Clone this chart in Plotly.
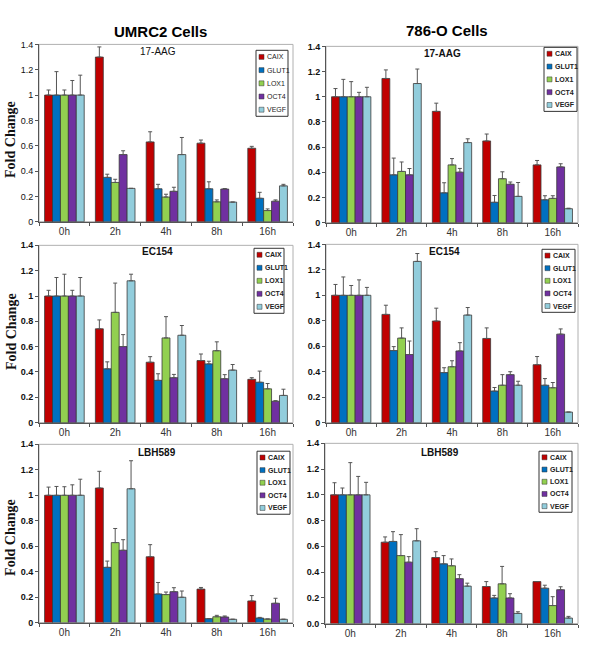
import plotly.graph_objects as go

W, H = 600, 667

time_labels = ["0h", "2h", "4h", "8h", "16h"]
genes = ["CAIX", "GLUT1", "LOX1", "OCT4", "VEGF"]
gene_colors = ["#C00000", "#0070C0", "#92D050", "#7030A0", "#92CDDC"]
column_titles = ["UMRC2 Cells", "786-O Cells"]
treatments = ["17-AAG", "EC154", "LBH589"]
y_tick_values = [0, 0.2, 0.4, 0.6, 0.8, 1.0, 1.2, 1.4]

# values[gene][time]
umrc2_17aag_values = [
    [1.0, 1.30, 0.63, 0.62, 0.58],
    [1.0, 0.35, 0.26, 0.26, 0.185],
    [1.0, 0.31, 0.195, 0.157, 0.088],
    [1.0, 0.53, 0.24, 0.258, 0.162],
    [1.0, 0.263, 0.53, 0.155, 0.283],
]
umrc2_17aag_errors = [
    [0.04, 0.08, 0.08, 0.025, 0.015],
    [0.185, 0.025, 0.035, 0.055, 0.047],
    [0.04, 0.025, 0.022, 0.015, 0.013],
    [0.115, 0.03, 0.032, 0.004, 0.01],
    [0.157, 0.0, 0.135, 0.0, 0.012],
]
o786_17aag_values = [
    [1.0, 1.145, 0.884, 0.649, 0.459],
    [1.0, 0.38, 0.237, 0.162, 0.182],
    [1.0, 0.407, 0.459, 0.349, 0.193],
    [1.0, 0.38, 0.401, 0.305, 0.443],
    [1.0, 1.105, 0.636, 0.209, 0.111],
]
o786_17aag_errors = [
    [0.065, 0.068, 0.065, 0.055, 0.035],
    [0.138, 0.133, 0.08, 0.054, 0.032],
    [0.12, 0.075, 0.05, 0.055, 0.021],
    [0.035, 0.05, 0.03, 0.018, 0.025],
    [0.075, 0.115, 0.03, 0.11, 0.004],
]
umrc2_ec154_values = [
    [1.0, 0.741, 0.477, 0.49, 0.342],
    [1.0, 0.425, 0.334, 0.464, 0.319],
    [1.0, 0.871, 0.669, 0.568, 0.267],
    [1.0, 0.601, 0.355, 0.347, 0.169],
    [1.0, 1.12, 0.69, 0.415, 0.215],
]
umrc2_ec154_errors = [
    [0.045, 0.07, 0.044, 0.052, 0.013],
    [0.146, 0.055, 0.052, 0.021, 0.088],
    [0.172, 0.231, 0.168, 0.07, 0.042],
    [0.045, 0.094, 0.026, 0.032, 0.005],
    [0.146, 0.052, 0.077, 0.044, 0.049],
]
o786_ec154_values = [
    [1.0, 0.85, 0.798, 0.661, 0.455],
    [1.0, 0.566, 0.393, 0.248, 0.294],
    [1.0, 0.664, 0.439, 0.294, 0.274],
    [1.0, 0.535, 0.563, 0.377, 0.695],
    [1.0, 1.266, 0.845, 0.294, 0.083],
]
o786_ec154_errors = [
    [0.085, 0.072, 0.101, 0.083, 0.064],
    [0.144, 0.031, 0.038, 0.028, 0.052],
    [0.077, 0.08, 0.047, 0.083, 0.041],
    [0.121, 0.106, 0.065, 0.023, 0.041],
    [0.062, 0.062, 0.059, 0.031, 0.0],
]
umrc2_lbh589_values = [
    [1.0, 1.057, 0.517, 0.263, 0.17],
    [1.0, 0.434, 0.225, 0.031, 0.036],
    [1.0, 0.628, 0.22, 0.046, 0.028],
    [1.0, 0.568, 0.243, 0.044, 0.152],
    [1.0, 1.051, 0.199, 0.026, 0.026],
]
umrc2_lbh589_errors = [
    [0.064, 0.131, 0.095, 0.013, 0.042],
    [0.069, 0.049, 0.09, 0.0, 0.005],
    [0.067, 0.111, 0.02, 0.011, 0.0],
    [0.082, 0.083, 0.031, 0.008, 0.039],
    [0.126, 0.22, 0.049, 0.0, 0.0],
]
o786_lbh589_values = [
    [1.0, 0.632, 0.513, 0.288, 0.326],
    [1.0, 0.638, 0.464, 0.199, 0.275],
    [1.0, 0.528, 0.449, 0.309, 0.14],
    [1.0, 0.477, 0.349, 0.199, 0.263],
    [1.0, 0.643, 0.291, 0.079, 0.043],
]
o786_lbh589_errors = [
    [0.094, 0.041, 0.045, 0.038, 0.0],
    [0.053, 0.076, 0.064, 0.02, 0.023],
    [0.25, 0.163, 0.053, 0.135, 0.069],
    [0.143, 0.043, 0.031, 0.033, 0.023],
    [0.097, 0.094, 0.023, 0.013, 0.013],
]

panels_data = [
    (umrc2_17aag_values, umrc2_17aag_errors),
    (o786_17aag_values, o786_17aag_errors),
    (umrc2_ec154_values, umrc2_ec154_errors),
    (o786_ec154_values, o786_ec154_errors),
    (umrc2_lbh589_values, umrc2_lbh589_errors),
    (o786_lbh589_values, o786_lbh589_errors),
]

# pixel boxes (x0, x1, y0_top, y1_bottom)
boxes = [
    (39, 293, 40, 220),
    (326, 578, 42, 221),
    (39, 293, 244, 424),
    (326, 578, 243, 424),
    (39, 293, 446, 627),
    (325, 578, 445, 628),
]
legend_boxes = [
    (256, 288, 46, 113),
    (544, 577, 43, 108),
    (254, 284, 247, 313),
    (542, 575, 248, 312),
    (257, 290, 453, 517),
    (539, 572, 453, 515),
]
treatment_pos = [(158, 47), (442, 49), (157, 250), (444, 250), (157, 454), (440, 454)]

def px(x):
    return x / W

def py(y):
    return 1 - y / H

fig = go.Figure()
shapes = []
annotations = []

for i, ((vals, errs), box) in enumerate(zip(panels_data, boxes)):
    k = i + 1
    xa = "x" if k == 1 else f"x{k}"
    ya = "y" if k == 1 else f"y{k}"
    bold = i != 0
    for g, gene in enumerate(genes):
        fig.add_trace(go.Bar(
            x=time_labels, y=vals[g], name=gene, xaxis=xa, yaxis=ya,
            marker=dict(color=gene_colors[g], line=dict(color="#3a3a3a", width=0.8)),
            error_y=dict(type="data", symmetric=False, array=errs[g],
                         arrayminus=[0] * len(errs[g]), color="#555555",
                         thickness=1, width=2),
            showlegend=False,
        ))
    x0, x1, y0, y1 = box
    xkey = "xaxis" if k == 1 else f"xaxis{k}"
    ykey = "yaxis" if k == 1 else f"yaxis{k}"
    fig.update_layout(**{
        xkey: dict(domain=[px(x0), px(x1)], anchor=ya, showgrid=False,
                   showline=True, linecolor="#555", linewidth=1,
                   ticks="outside", ticklen=3, tickcolor="#555", tickson="boundaries",
                   tickfont=dict(family="Liberation Sans", size=10, color="#333"),
                   fixedrange=True),
        ykey: dict(domain=[py(y1), py(y0)], anchor=xa, range=[0, 1.4],
                   tickvals=y_tick_values,
                   ticktext=[("<b>%s</b>" if bold else "%s") % (
                       ("%.1f" % v) if i == 5 else ("%g" % v)) for v in y_tick_values],
                   showgrid=False, zeroline=False,
                   showline=True, linecolor="#555", linewidth=1,
                   ticks="outside", ticklen=3, tickcolor="#555",
                   tickfont=dict(family="Liberation Sans", size=9, color="#111"),
                   fixedrange=True),
    })
    # plot area frame (light gray on top/right)
    shapes.append(dict(type="rect", xref="paper", yref="paper",
                       x0=px(x0), x1=px(x1), y0=py(y1), y1=py(y0),
                       line=dict(color="#b0b0b0", width=1), layer="below"))
    # treatment label
    tx, ty = treatment_pos[i]
    annotations.append(dict(x=px(tx), y=py(ty), xref="paper", yref="paper",
                            text=("<b>%s</b>" if bold else "%s") % treatments[i // 2],
                            showarrow=False, xanchor="center", yanchor="middle",
                            font=dict(family="Liberation Sans", size=10, color="#111")))
    # legend
    lx0, lx1, ly0, ly1 = legend_boxes[i]
    shapes.append(dict(type="rect", xref="paper", yref="paper",
                       x0=px(lx0), x1=px(lx1), y0=py(ly1), y1=py(ly0),
                       line=dict(color="#333", width=1), fillcolor="white", layer="above"))
    step = (ly1 - ly0) / 5
    for g, gene in enumerate(genes):
        cy = ly0 + step * (g + 0.5)
        shapes.append(dict(type="rect", xref="paper", yref="paper",
                           x0=px(lx0 + 3), x1=px(lx0 + 8), y0=py(cy + 2.5), y1=py(cy - 2.5),
                           line=dict(color="#333", width=0.5), fillcolor=gene_colors[g],
                           layer="above"))
        annotations.append(dict(x=px(lx0 + 9), y=py(cy), xref="paper", yref="paper",
                                text=("<b>%s</b>" if bold else "%s") % gene,
                                showarrow=False, xanchor="left", yanchor="middle",
                                font=dict(family="Liberation Sans", size=7, color="#222")))

# column titles
annotations.append(dict(x=px(160), y=py(27), xref="paper", yref="paper",
                        text="<b>%s</b>" % column_titles[0], showarrow=False,
                        xanchor="center", yanchor="middle",
                        font=dict(family="Liberation Sans", size=15, color="#000")))
annotations.append(dict(x=px(447), y=py(26), xref="paper", yref="paper",
                        text="<b>%s</b>" % column_titles[1], showarrow=False,
                        xanchor="center", yanchor="middle",
                        font=dict(family="Liberation Sans", size=15, color="#000")))
# Fold Change labels
for cy in [137, 332, 541]:
    annotations.append(dict(x=px(11), y=py(cy), xref="paper", yref="paper",
                            text="<b>Fold Change</b>", textangle=-90, showarrow=False,
                            xanchor="center", yanchor="middle",
                            font=dict(family="Liberation Serif", size=14, color="#111")))

fig.update_layout(
    width=W, height=H, margin=dict(l=0, r=0, t=0, b=0),
    paper_bgcolor="white", plot_bgcolor="white",
    barmode="group", bargap=0.22, bargroupgap=0,
    shapes=shapes, annotations=annotations, showlegend=False,
)

fig.write_html("out.html", config={"displayModeBar": False},
               post_script="document.body.style.margin='0';document.body.style.overflow='hidden';")
